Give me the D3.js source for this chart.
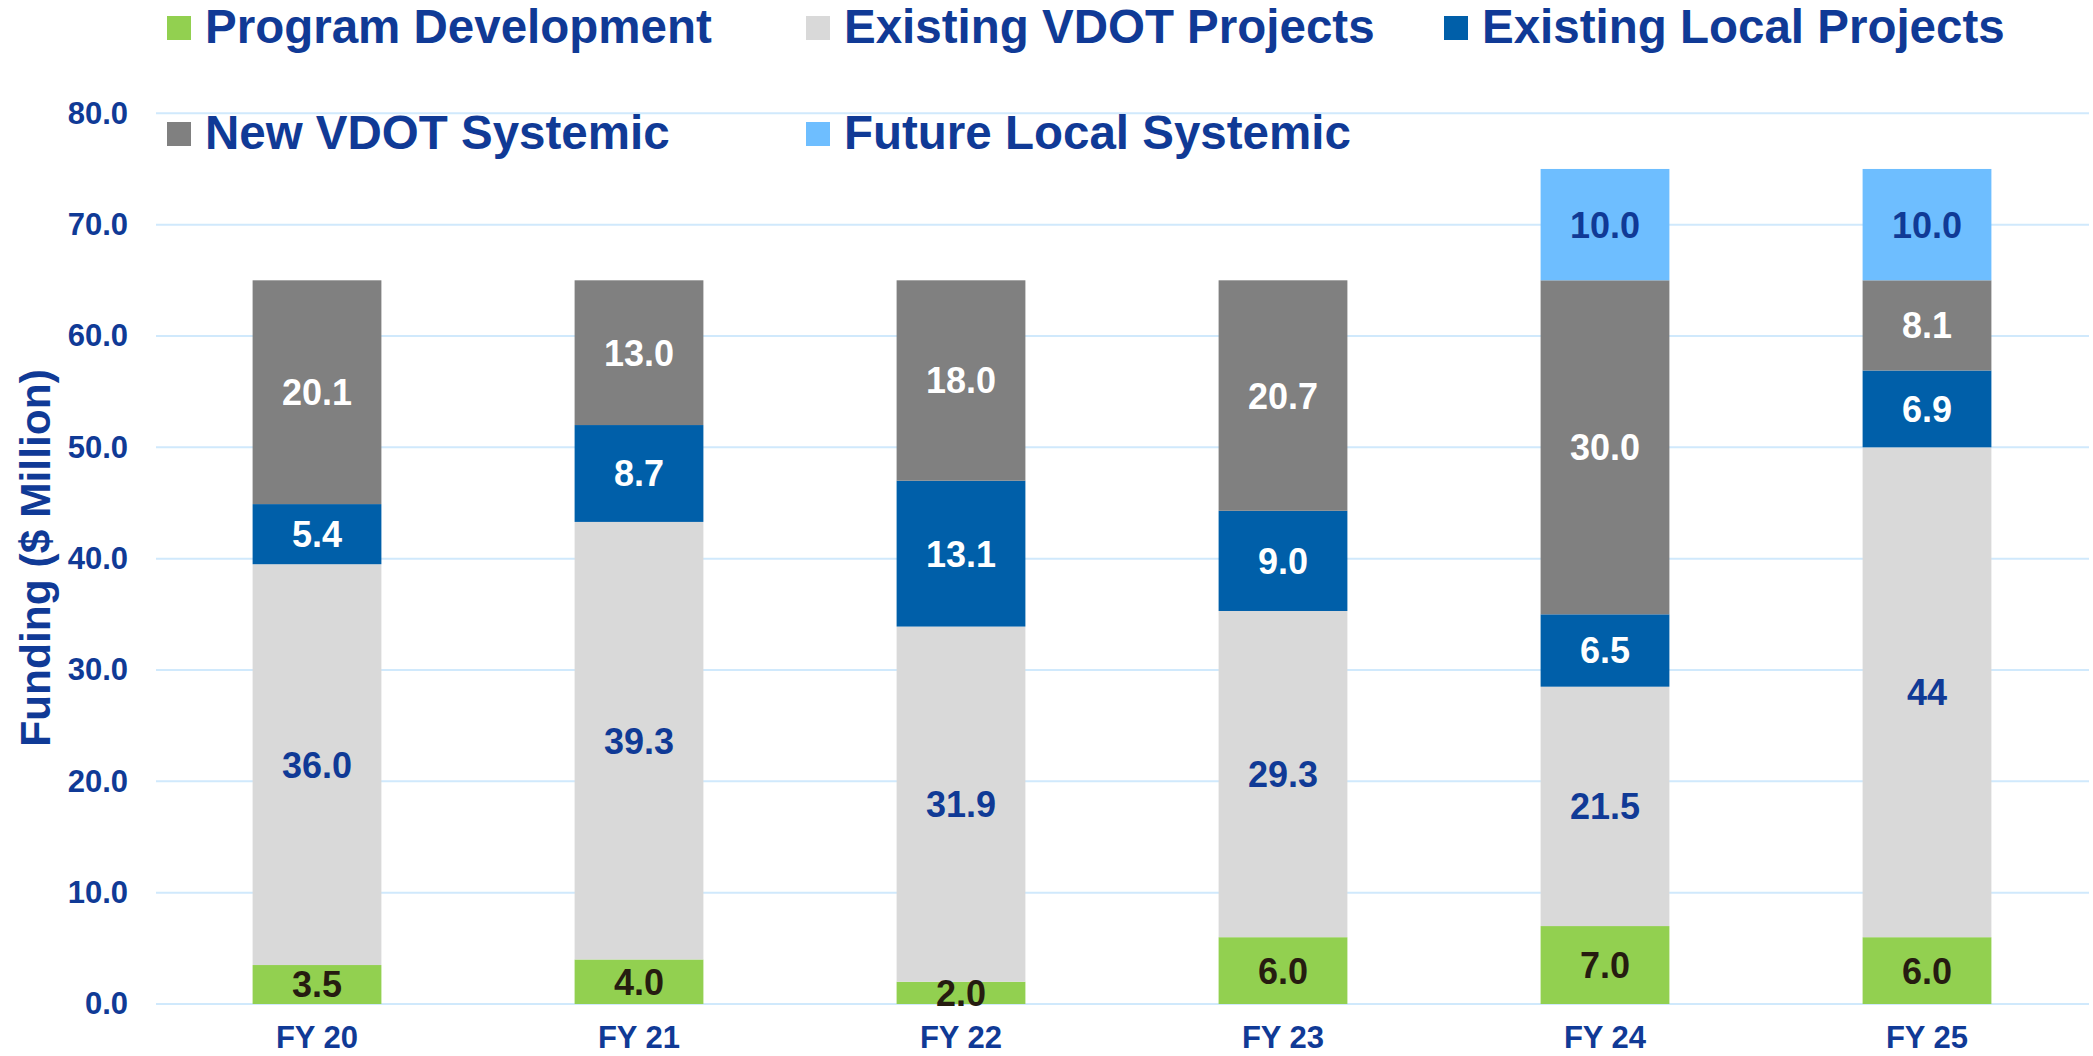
<!DOCTYPE html>
<html>
<head>
<meta charset="utf-8">
<script src="https://cdn.jsdelivr.net/npm/d3@7"></script>
<style>
  body { margin: 0; background: #fff; }
  text { font-family: "Liberation Sans", Arial, sans-serif; font-weight: bold; }
</style>
</head>
<body>
<svg></svg>
<script>
// values
const years = ['FY 20', 'FY 21', 'FY 22', 'FY 23', 'FY 24', 'FY 25']
const programDev     = [3.5, 4.0, 2.0, 6.0, 7.0, 6.0]
const existingVdot   = [36.0, 39.3, 31.9, 29.3, 21.5, 44]
const existingLocal  = [5.4, 8.7, 13.1, 9.0, 6.5, 6.9]
const newVdot        = [20.1, 13.0, 18.0, 20.7, 30.0, 8.1]
const futureLocal    = [0, 0, 0, 0, 10.0, 10.0]
const yTicks = [0, 10, 20, 30, 40, 50, 60, 70, 80]
// the one label the source prints without a decimal
const plainLabels = { 'FY 25|Existing VDOT Projects': '44' }

const seriesNames = ['Program Development', 'Existing VDOT Projects', 'Existing Local Projects',
                     'New VDOT Systemic', 'Future Local Systemic']
const seriesValues = [programDev, existingVdot, existingLocal, newVdot, futureLocal]
const seriesColors = ['#92d050', '#d9d9d9', '#005fa9', '#808080', '#6ebeff']
const labelColors  = ['#261c10', '#103a96', '#ffffff', '#ffffff', '#103a96']

const TEXT_BLUE = '#103a96'
const W = 2093, H = 1056
const LEFT = 156, RIGHT = 2088, Y0 = 1004, Y80 = 113.3

const table = years.map((y, i) => {
    let row = { year: y }
    seriesNames.forEach((s, j) => row[s] = seriesValues[j][i])
    return row
})

let svg = d3.select('svg')
    .attr('width', W)
    .attr('height', H)

let x = d3.scaleBand()
    .domain(years)
    .range([LEFT, RIGHT])
    .paddingInner(0.6)
    .paddingOuter(0.3)

let y = d3.scaleLinear()
    .domain([0, 80])
    .range([Y0, Y80])

// gridlines
svg.append('g')
    .selectAll('line')
    .data(yTicks)
    .enter()
    .append('line')
        .attr('x1', LEFT)
        .attr('x2', RIGHT + 1)
        .attr('y1', d => y(d))
        .attr('y2', d => y(d))
        .attr('stroke', '#d0e9fc')
        .attr('stroke-width', 2)

// y axis labels
let yAxis = d3.axisLeft(y).tickValues(yTicks).tickFormat(d3.format('.1f')).tickSize(0).tickPadding(28)
svg.append('g')
    .attr('transform', `translate(${LEFT}, 0)`)
    .call(yAxis)
    .call(g => g.select('.domain').remove())
    .selectAll('text')
        .attr('fill', TEXT_BLUE)
        .style('font-size', '31px')
        .style('font-family', '"Liberation Sans", Arial, sans-serif')
        .style('font-weight', 'bold')

// x axis labels
let xAxis = d3.axisBottom(x).tickSize(0).tickPadding(0)
svg.append('g')
    .attr('transform', `translate(0, ${Y0})`)
    .call(xAxis)
    .call(g => g.select('.domain').remove())
    .selectAll('text')
        .attr('y', 44)
        .attr('dy', 0)
        .attr('fill', TEXT_BLUE)
        .style('font-size', '31px')
        .style('font-family', '"Liberation Sans", Arial, sans-serif')
        .style('font-weight', 'bold')

// axis title
svg.append('text')
    .attr('transform', `translate(50, 558) rotate(-90)`)
    .attr('text-anchor', 'middle')
    .attr('fill', TEXT_BLUE)
    .style('font-size', '42.5px')
    .text('Funding ($ Million)')

// stacked bars
let stacked = d3.stack().keys(seriesNames)(table)

let layers = svg.append('g')
    .selectAll('g')
    .data(stacked)
    .enter()
    .append('g')
        .attr('fill', (d, i) => seriesColors[i])

layers.selectAll('rect')
    .data(d => d.filter(p => p[1] - p[0] > 0))
    .enter()
    .append('rect')
        .attr('x', d => x(d.data.year))
        .attr('width', x.bandwidth())
        .attr('y', d => y(d[1]))
        .attr('height', d => y(d[0]) - y(d[1]))

// value labels
stacked.forEach((layer, i) => {
    svg.append('g')
        .selectAll('text')
        .data(layer.filter(p => p[1] - p[0] > 0))
        .enter()
        .append('text')
            .attr('x', d => x(d.data.year) + x.bandwidth() / 2)
            .attr('y', d => (y(d[0]) + y(d[1])) / 2)
            .attr('dy', '0.36em')
            .attr('text-anchor', 'middle')
            .attr('fill', labelColors[i])
            .style('font-size', '36px')
            .text(d => plainLabels[d.data.year + '|' + layer.key] || d3.format('.1f')(d[1] - d[0]))
})

// legend, two rows
const legendPos = [[167, 43], [806, 43], [1444, 43], [167, 149], [806, 149]]
let legend = svg.append('g')
    .selectAll('g')
    .data(seriesNames)
    .enter()
    .append('g')
        .attr('transform', (d, i) => `translate(${legendPos[i][0]}, ${legendPos[i][1]})`)

legend.append('rect')
    .attr('x', 0)
    .attr('y', -27)
    .attr('width', 24)
    .attr('height', 24)
    .attr('fill', (d, i) => seriesColors[i])

legend.append('text')
    .attr('x', 38)
    .attr('y', 0)
    .attr('fill', TEXT_BLUE)
    .style('font-size', '47.5px')
    .text(d => d)
</script>
</body>
</html>
